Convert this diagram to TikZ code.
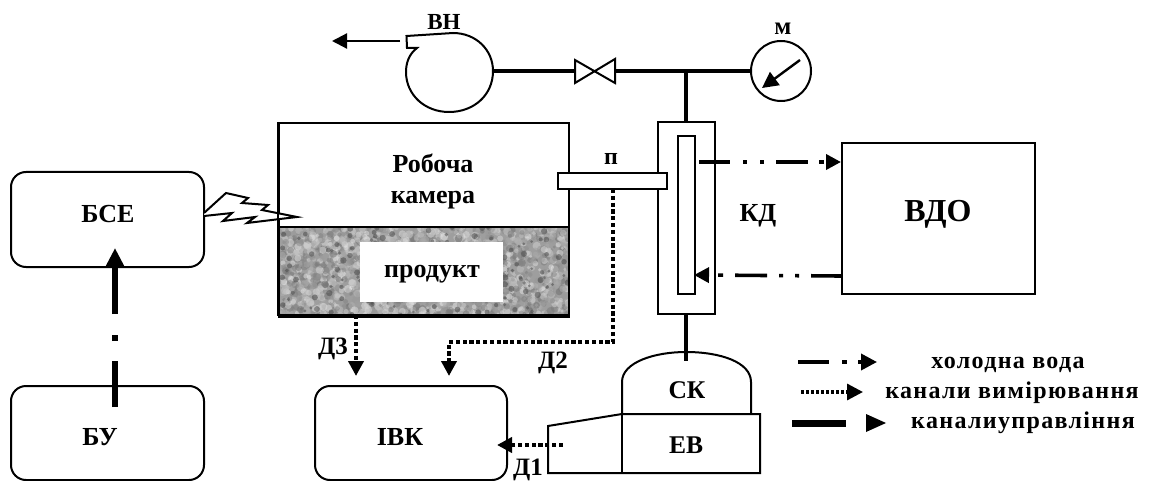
\documentclass[tikz,border=0pt]{standalone}
\usepackage{fontspec}
\setmainfont{Liberation Serif}
\usetikzlibrary{arrows.meta}
\newcommand{\fsz}[1]{\fontsize{#1}{#1}\selectfont\bfseries}
\newcommand{\lsz}{\fontsize{24}{24}\selectfont\bfseries\addfontfeatures{LetterSpace=5.6}}
\tikzset{
  x=1pt,y=-1pt,
  box/.style={draw=black,line width=2pt,inner sep=0pt,fill=none},
  rbox/.style={box,rounded corners=15pt},
  lbl/.style={inner sep=0pt,anchor=base,text=black},
  pipe/.style={line width=4pt,draw=black},
  thin line/.style={line width=2pt,draw=black},
  tip/.style={-{Triangle[length=#1,width=#1]}},
  water/.style={line width=3.6pt,draw=black},
  dots/.style={line width=4.2pt,draw=black,dash pattern=on 4.2pt off 2.6pt},
}
\begin{document}
\begin{tikzpicture}
\useasboundingbox (0,0) rectangle (1150,481);
\fill[white] (0,0) rectangle (1150,481);
% product texture
\begin{scope}
\clip (279,227) rectangle (569,315);
\fill[black!38] (279,227) rectangle (569,315);
\pgfmathsetseed{11}
\foreach \i in {1,...,2000}{
  \pgfmathsetmacro{\xx}{279+290*rnd}
  \pgfmathsetmacro{\yy}{227+88*rnd}
  \pgfmathsetmacro{\gg}{8+50*rnd}
  \pgfmathsetmacro{\rr}{1.6+2.6*rnd}
  \fill[black!\gg,opacity=0.5] (\xx,\yy) circle[radius=\rr];
}
\foreach \i in {1,...,170}{
  \pgfmathsetmacro{\xx}{279+290*rnd}
  \pgfmathsetmacro{\yy}{227+88*rnd}
  \pgfmathsetmacro{\rr}{1.4+1.8*rnd}
  \fill[black!70,opacity=0.55] (\xx,\yy) circle[radius=\rr];
}
\end{scope}
\node[fill=white,inner sep=0pt,minimum width=143pt,minimum height=60pt] (prodbox) at (431.5,272) {};
% chamber
\node[box,minimum width=290pt,minimum height=192pt] (chamber) at (424,219) {};
\coordinate (divL) at (279,227); \coordinate (divR) at (569,227);
\draw[thin line] (divL) -- (divR);
\draw[line width=3pt] (chamber.south west) -- (chamber.south east);
% condenser
\node[box,minimum width=57pt,minimum height=192pt] (kd) at (686.5,218) {};
\node[box,fill=white,minimum width=109pt,minimum height=16pt] (probe) at (612.5,181) {};
\node[box,fill=white,minimum width=17pt,minimum height=158pt] (kdin) at (686.5,215) {};
% VDO
\node[box,minimum width=193pt,minimum height=151pt] (vdo) at (938.5,218.5) {};
% rounded boxes
\node[rbox,minimum width=193pt,minimum height=95pt] (bse) at (107.5,219.5) {};
\node[rbox,minimum width=193pt,minimum height=94pt] (bu) at (107.5,433) {};
\node[rbox,minimum width=192pt,minimum height=94pt] (ivk) at (411,433) {};
% pump
\draw[thin line] (417,48) .. controls (409,54) and (406,63) .. (406,72)
  .. controls (406,95) and (425,112) .. (449,112)
  .. controls (474,112) and (493,95) .. (493,71)
  .. controls (493,50) and (476,33) .. (453,33)
  -- (406.5,36) -- (407,48) -- cycle;
\coordinate (pumpR) at (493,71);
\coordinate (pumpOut) at (400,41);
\coordinate (exhaust) at (332,41);
\draw[line width=2.2pt,tip=15pt] (pumpOut) -- (exhaust);
% valve
\coordinate (valveL) at (575,71);
\coordinate (valveR) at (615,71);
\draw[thin line] (575,60) -- (615,83) -- (615,59) -- (575,83) -- cycle;
% gauge
\node[draw=black,line width=2pt,circle,inner sep=0pt,minimum size=60pt] (gauge) at (781,71) {};
\coordinate (needleA) at (800,60); \coordinate (needleB) at (762,88);
\draw[line width=2.4pt,tip=16pt] (needleA) -- (needleB);
% pipes
\draw[pipe] (pumpR) -- (valveL);
\draw[pipe] (valveR) -- (gauge.west);
\coordinate (tee) at (686,71);
\draw[pipe] (tee) -- (kd.north -| tee);
\coordinate (domeIn) at (686,361);
\draw[pipe] (kd.south -| domeIn) -- (domeIn);
% SK / EV
\coordinate (ska) at (622,414);
\coordinate (skb) at (751,414);
\draw[thin line] (ska) -- (622,382) .. controls (622,362) and (655,352) .. (686,352) .. controls (720,352) and (751,362) .. (751,382) -- (skb);
\draw[thin line] (760,414) -- (622,414) -- (548,426) -- (548,473) -- (760,473) -- cycle;
\draw[thin line] (622,414) -- (622,473);
% water arrows
\coordinate (wa) at (699,162); \coordinate (wb) at (vdo.west |- wa);
\draw[water,tip=15pt,dash pattern=on 31pt off 13pt on 4pt off 13pt on 4pt off 12pt on 32pt off 11pt on 5pt off 30pt] (wa) -- (wb);
\coordinate (wc) at (842,276); \coordinate (wd) at (694,275);
\draw[water,tip=15pt,dash pattern=on 31pt off 12pt on 4pt off 12pt on 4pt off 12pt on 32pt off 12pt on 5pt off 30pt] (wc) -- (wd);
% control arrow
\coordinate (ca) at (115,407); \coordinate (cb) at (115,248);
\draw[line width=6.4pt,-{Triangle[length=19pt,width=18pt]},dash pattern=on 46pt off 20pt on 6pt off 21pt on 70pt off 10pt] (ca) -- (cb);
% lightning
\draw[thin line,fill=white] (204,213) -- (226,193) -- (248,198) -- (242,203) -- (268,205) -- (262,210) -- (297,217) -- (280,219) -- (247,223) -- (255,217) -- (223,221) -- (232,213) -- (204,216);
\draw[thin line] (chamber.north west) -- (chamber.south west);
% measurement channels
\coordinate (d3a) at (356,315); \coordinate (d3b) at (356,376);
\draw[dots,tip=15pt] (d3a) -- (d3b);
\coordinate (d2a) at (613,189); \coordinate (d2b) at (613,342); \coordinate (d2c) at (449,342); \coordinate (d2d) at (449,376);
\draw[dots,tip=15pt] (d2a) -- (d2b) -- (d2c) -- (d2d);
\coordinate (d1a) at (563,445); \coordinate (d1b) at (497,445);
\draw[dots,tip=15pt] (d1a) -- (d1b);
% legend lines
\coordinate (l1a) at (798,362); \coordinate (l1b) at (877,362);
\draw[water,tip=16pt,dash pattern=on 31pt off 13pt on 5pt off 11pt on 30pt off 10pt] (l1a) -- (l1b);
\coordinate (l2a) at (801,392); \coordinate (l2b) at (863,392);
\draw[line width=3.2pt,draw=black,tip=16pt,dash pattern=on 3pt off 2pt] (l2a) -- (l2b);
\coordinate (l3a) at (792,423); \coordinate (l3b) at (846,423);
\draw[line width=7pt,draw=black] (l3a) -- (l3b);
\coordinate (l3c) at (866,423); \coordinate (l3d) at (886,423);
\fill[black] (l3c |- 0,414) -- (l3d) -- (l3c |- 0,432) -- cycle;
% labels
\node[lbl,font=\fsz{26}] (tbse) at (108,222) {БСЕ};
\node[lbl,font=\fsz{26}] (tbu) at (100,445) {БУ};
\node[lbl,font=\fsz{26}] (trob) at (433,172) {Робоча};
\node[lbl,font=\fsz{26}] (tkam) at (433,204) {камера};
\node[lbl,font=\fsz{26}] (tprod) at (432,277) {продукт};
\node[lbl,font=\fsz{23}] (tvn) at (444,30) {ВН};
\node[lbl,font=\fsz{25}] (tm) at (783,35) {м};
\node[lbl,font=\fsz{24}] (tp) at (611,165) {п};
\node[lbl,font=\fsz{26}] (tkd) at (758,221) {КД};
\node[lbl,font=\fsz{32}] (tvdo) at (938,221) {ВДО};
\node[lbl,font=\fsz{25.5}] (tsk) at (687,398) {СК};
\node[lbl,font=\fsz{25.5}] (tev) at (686,453) {ЕВ};
\node[lbl,font=\fsz{26}] (tivk) at (400,445) {ІВК};
\node[lbl,font=\fsz{25}] (td1) at (528,475) {Д1};
\node[lbl,font=\fsz{25}] (td2) at (553,368) {Д2};
\node[lbl,font=\fsz{25}] (td3) at (333,354) {Д3};
\node[lbl,font=\lsz] (tl1) at (1008,368) {холодна вода};
\node[lbl,font=\lsz] (tl2) at (1012,398) {канали вимірювання};
\node[lbl,font=\lsz] (tl3) at (1023,428) {каналиуправління};
\end{tikzpicture}
\end{document}
